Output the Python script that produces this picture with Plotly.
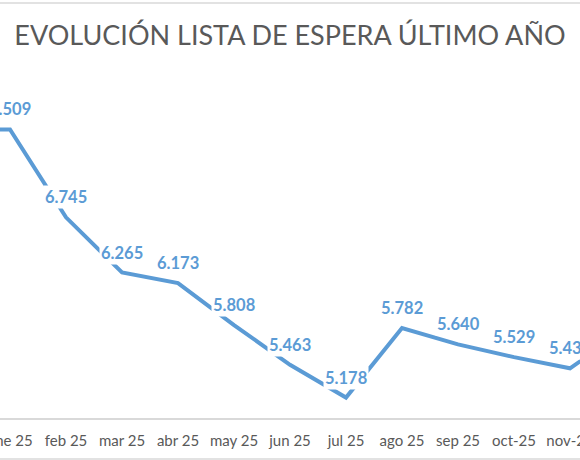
import plotly.graph_objects as go

# datos (lista de espera, personas)
meses = ['dic 24', 'ene 25', 'feb 25', 'mar 25', 'abr 25', 'may 25', 'jun 25',
         'jul 25', 'ago 25', 'sep 25', 'oct-25', 'nov-25', 'dic-25']
pacientes = [7510, 7509, 6745, 6265, 6173, 5808, 5463, 5178, 5782, 5640, 5529, 5432, 5770]

azul = '#5B9BD5'
gris = '#595959'
fuente = 'Lato'

fig = go.Figure()

fig.add_trace(go.Scatter(x=meses, y=pacientes, mode='lines',
                         line=dict(color=azul, width=4),
                         hoverinfo='skip', showlegend=False))

# etiquetas de datos con fondo blanco (como en Excel)
for m, v in zip(meses, pacientes):
    fig.add_annotation(x=m, y=v, xref='x', yref='y',
                       text=f'{v:,}'.replace(',', '.'),
                       showarrow=False, yshift=20,
                       bgcolor='white', borderpad=1,
                       font=dict(family=fuente, size=16.5, color=azul, weight='bold'))

# bordes del gráfico
for yy in (1.203, -0.119):
    fig.add_shape(type='line', xref='paper', yref='paper',
                  x0=0, x1=1, y0=yy, y1=yy,
                  line=dict(color='#D9D9D9', width=1.5))

fig.update_layout(
    width=580, height=460,
    margin=dict(l=0, r=0, t=73, b=42, autoexpand=False),
    paper_bgcolor='white', plot_bgcolor='white',
    title=dict(text='EVOLUCIÓN LISTA DE ESPERA ÚLTIMO AÑO',
               x=0.5, xanchor='center', y=0.922, yanchor='middle',
               font=dict(family=fuente, size=27, color=gris)),
    xaxis=dict(type='category', range=[0.8214, 11.1786],
               showline=True, linecolor='#D9D9D9', linewidth=1.5,
               showgrid=False, ticks='', ticklabelstandoff=8,
               tickfont=dict(family=fuente, size=15, color=gris)),
    yaxis=dict(range=[5000, 8000], visible=False, showgrid=False),
)

fig.write_html("out.html", config={'displayModeBar': False},
               post_script="document.body.style.margin='0';")
